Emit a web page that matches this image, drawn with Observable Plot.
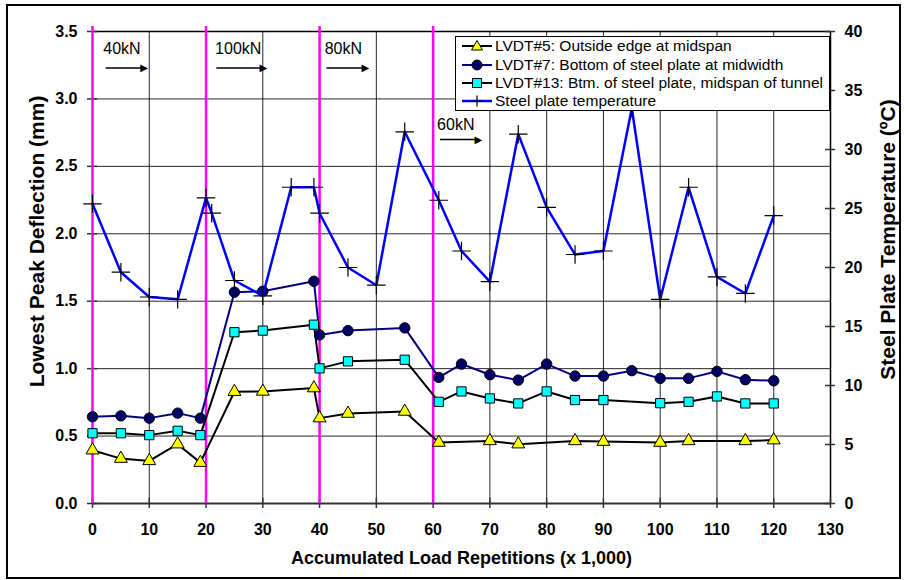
<!DOCTYPE html>
<html><head><meta charset="utf-8">
<script src="https://cdn.jsdelivr.net/npm/d3@7"></script>
<script src="https://cdn.jsdelivr.net/npm/@observablehq/plot@0.6"></script>
<style>
body{margin:0;background:#fff;font-family:Arial,"Liberation Sans",sans-serif;}
#wrap{position:relative;width:904px;height:580px;}
#border{position:absolute;left:6px;top:4px;width:891px;height:571px;border:2px solid #000;pointer-events:none;}
#legend{position:absolute;left:455px;top:36px;width:375px;height:75px;border:1px solid #000;background:#fff;font-size:15.5px;color:#000;padding-top:0px;box-sizing:border-box;}
#legend .row{display:flex;align-items:center;height:18.4px;white-space:nowrap;}
#legend svg{margin-left:6px;margin-right:3px;flex:none;}
svg [aria-label$="tick label"] text, svg [aria-label$="axis label"] text, .bold text{font-weight:bold;}
</style>
</head><body>
<div id="wrap"><div id="chart"></div><div id="legend"></div><div id="border"></div></div>
<script>
// ---- data ----
const xLvdt5 = [0,5,10,15,19,25,30,39,40,45,55,61,70,75,85,90,100,105,115,120];
const lvdt5  = [0.395,0.333,0.316,0.44,0.303,0.829,0.831,0.856,0.633,0.667,0.682,0.452,0.464,0.44,0.464,0.459,0.452,0.464,0.464,0.47];

const xLvdt7 = [0,5,10,15,19,25,30,39,40,45,55,61,65,70,75,80,85,90,95,100,105,110,115,120];
const lvdt7  = [0.643,0.650,0.633,0.670,0.633,1.567,1.574,1.648,1.25,1.282,1.302,0.935,1.034,0.955,0.915,1.034,0.945,0.945,0.985,0.928,0.928,0.98,0.918,0.910];

const xLvdt13 = [0,5,10,15,19,25,30,39,40,45,55,61,65,70,75,80,85,90,100,105,110,115,120];
const lvdt13  = [0.521,0.521,0.507,0.539,0.507,1.27,1.282,1.326,1.002,1.054,1.066,0.754,0.831,0.779,0.742,0.831,0.767,0.767,0.744,0.754,0.794,0.742,0.742];

const xTemp = [0,5,10,15,20,21,25,30,35,39,40,45,50,55,61,65,70,75,80,85,90,95,100,105,110,115,120];
const temp  = [25.4,19.6,17.5,17.3,25.9,24.6,18.9,17.6,26.8,26.8,24.6,20.0,18.5,31.5,25.7,21.4,18.8,31.3,25.1,21.1,21.4,33.5,17.3,26.8,19.2,17.8,24.4];

const xTicks = d3.range(0, 131, 10);
const yTicks = [0,0.5,1.0,1.5,2.0,2.5,3.0,3.5];
const tempTicks = [0,5,10,15,20,25,30,35,40];

const loadStarts = [0,20,40,60];
const loadLabels = ["40kN","100kN","80kN","60kN"];
const loadLabelX = [1.9,21.6,40.9,60.7];
const loadLabelY = [3.37,3.37,3.37,2.805];
const arrowX1 = [2.4,21.9,41.3,61.3];
const arrowX2 = [9.4,30.4,48.4,68.3];
const arrowY  = [3.23,3.23,3.23,2.70];

const seriesNames = ["LVDT#5: Outside edge at midspan","LVDT#7: Bottom of steel plate at midwidth","LVDT#13: Btm. of steel plate, midspan of tunnel","Steel plate temperature"];
const xTitle = "Accumulated Load Repetitions (x 1,000)";
const yTitle = "Lowest Peak Deflection (mm)";
const y2Title = "Steel Plate Temperature (ºC)";

// ---- tables ----
const toRows = (xs, ys) => xs.map((x, i) => ({x, y: ys[i]}));
const d5 = toRows(xLvdt5, lvdt5), d7 = toRows(xLvdt7, lvdt7), d13 = toRows(xLvdt13, lvdt13);
const K = 3.5 / 40; // temperature -> left scale
const dT = xTemp.map((x, i) => ({x, y: temp[i] * K}));
const loads = loadLabels.map((t, i) => ({t, lx: loadLabelX[i], ly: loadLabelY[i], x1: arrowX1[i], x2: arrowX2[i], ay: arrowY[i]}));

const font = "Arial, 'Liberation Sans', sans-serif";
const chart = Plot.plot({
  width: 904, height: 580,
  marginLeft: 92, marginRight: 74, marginTop: 31, marginBottom: 77,
  style: {fontFamily: font, background: "transparent", color: "#000"},
  x: {domain: [0, 130]},
  y: {domain: [0, 3.5]},
  marks: [
    Plot.gridX(xTicks, {stroke: "#000", strokeOpacity: 0.85, strokeWidth: 1}),
    Plot.gridY(yTicks, {stroke: "#000", strokeOpacity: 0.85, strokeWidth: 1}),
    Plot.ruleY([3.5], {stroke: "#000", strokeWidth: 1.5}),
    Plot.ruleX([130], {stroke: "#000", strokeWidth: 1.5}),
    Plot.ruleY([0], {stroke: "#333", strokeWidth: 2}),
    // inner halves of crossing tick marks
    Plot.ruleX(xTicks, {y1: 0, y2: 0.04, stroke: "#333", strokeWidth: 1.5}),
    Plot.ruleY(yTicks, {x1: 0, x2: 0.9, stroke: "#333", strokeWidth: 1.5}),
    Plot.ruleY(tempTicks, {y: t => t * K, x1: 129.1, x2: 130.9, stroke: "#333", strokeWidth: 1.5}),
    Plot.axisX({ticks: xTicks, tickSize: 5, tickPadding: 15, fontSize: 16, fontWeight: "bold", stroke: "#333", strokeWidth: 1.5, label: null}),
    Plot.axisY({ticks: yTicks, tickSize: 5, tickPadding: 10, fontSize: 16, fontWeight: "bold", stroke: "#333", strokeWidth: 1.5,
      tickFormat: d3.format(".1f"), label: null}),
    Plot.text(tempTicks, {x: 130, y: t => t * K, text: t => String(t), dx: 14, textAnchor: "start", fontSize: 16, fontWeight: "bold", className: "bold"}),
    Plot.text([xTitle], {frameAnchor: "bottom", lineAnchor: "middle", dy: 55, fontSize: 18, fontWeight: "bold", className: "bold"}),
    Plot.text([yTitle], {frameAnchor: "left", textAnchor: "middle", lineAnchor: "middle", dx: -55, dy: -26, rotate: -90, fontSize: 21, fontWeight: "bold", className: "bold"}),
    Plot.text([y2Title], {frameAnchor: "right", textAnchor: "middle", lineAnchor: "middle", dx: 58, dy: -28, rotate: -90, fontSize: 21, fontWeight: "bold", className: "bold"}),
    Plot.ruleX(loadStarts, {stroke: "#ff00ff", strokeWidth: 2.5, insetTop: -5}),
    // annotations
    Plot.text(loads, {x: "lx", y: "ly", text: "t", textAnchor: "start", fontSize: 16}),
    Plot.ruleY(loads, {x1: "x1", x2: "x2", y: "ay", stroke: "#000", strokeWidth: 1.5}),
    Plot.text(loads, {x: "x2", y: "ay", text: () => "\u25B6", textAnchor: "end", dx: 2, fontSize: 10, fill: "#000", fontFamily: "DejaVu Sans"}),
    // series
    Plot.line(d5, {x: "x", y: "y", stroke: "#000", strokeWidth: 2}),
    Plot.line(d7, {x: "x", y: "y", stroke: "#000080", strokeWidth: 2}),
    Plot.line(d13, {x: "x", y: "y", stroke: "#000", strokeWidth: 2}),
    Plot.dot(d5, {x: "x", y: "y", symbol: "triangle", r: 4.8, fill: "#ffff00", stroke: "#000", strokeWidth: 1}),
    Plot.dot(d7, {x: "x", y: "y", symbol: "circle", r: 5.2, fill: "#000066", stroke: "#000", strokeWidth: 1}),
    Plot.dot(d13, {x: "x", y: "y", symbol: "square", r: 5.2, fill: "#00ffff", stroke: "#000", strokeWidth: 1}),
    Plot.line(dT, {x: "x", y: "y", stroke: "#0000ff", strokeWidth: 2.5}),
    Plot.dot(dT, {x: "x", y: "y", symbol: "plus", r: 6, stroke: "#000", strokeWidth: 1.2})
  ]
});
document.getElementById("chart").appendChild(chart);

// legend
const samples = [
  `<line x1="0" y1="9" x2="30" y2="9" stroke="#000" stroke-width="2"/><path d="M15,3.5 L20.5,13 L9.5,13 Z" fill="#ffff00" stroke="#000"/>`,
  `<line x1="0" y1="9" x2="30" y2="9" stroke="#000080" stroke-width="2"/><circle cx="15" cy="9" r="5" fill="#000066" stroke="#000"/>`,
  `<line x1="0" y1="9" x2="30" y2="9" stroke="#000" stroke-width="2"/><rect x="10.5" y="4.5" width="9" height="9" fill="#00ffff" stroke="#000"/>`,
  `<line x1="0" y1="9" x2="30" y2="9" stroke="#0000ff" stroke-width="2.5"/><path d="M15,3.5 V14.5 M9.5,9 H20.5" stroke="#000" stroke-width="1.2"/>`
];
const leg = document.getElementById("legend");
seriesNames.forEach((name, i) => {
  const row = document.createElement("div");
  row.className = "row";
  row.innerHTML = `<svg width="30" height="18">${samples[i]}</svg><span>${name}</span>`;
  leg.appendChild(row);
});
</script>
</body></html>
